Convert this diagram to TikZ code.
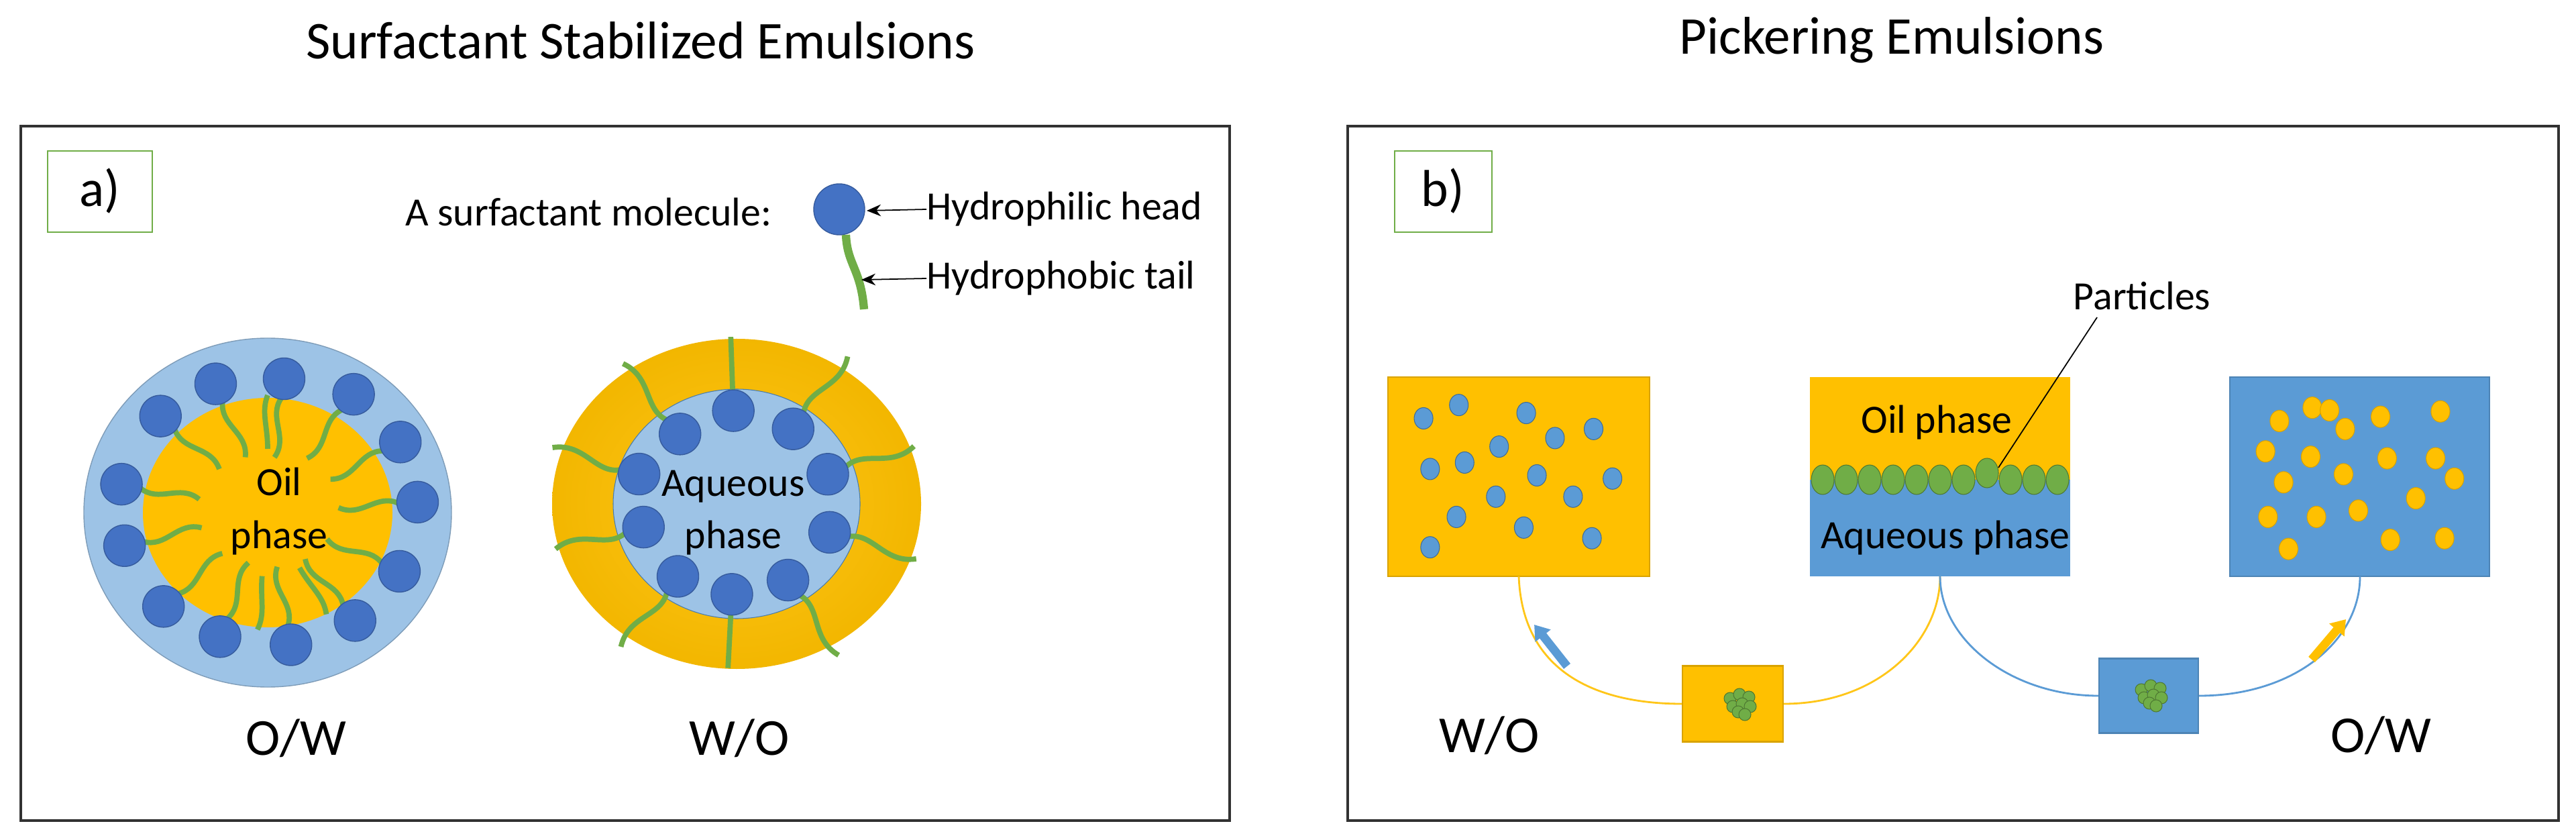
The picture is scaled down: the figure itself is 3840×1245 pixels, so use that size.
\documentclass[tikz,border=0pt]{standalone}
\usepackage{fontspec}
\setmainfont{Carlito}
\usetikzlibrary{calc,arrows.meta}
\definecolor{oilc}{RGB}{255,192,0}
\definecolor{lblue}{RGB}{157,195,230}
\definecolor{dblue}{RGB}{68,114,196}
\definecolor{sblue}{RGB}{91,155,213}
\definecolor{grn}{RGB}{112,173,71}
\definecolor{frame}{RGB}{50,50,50}
\tikzset{
  panel/.style={draw=frame,line width=1.2pt},
  tagbox/.style={draw=grn,line width=0.8pt},
  lab/.style={font=\fontsize{17}{20}\selectfont,inner sep=0pt},
  big/.style={font=\fontsize{22}{26}\selectfont,inner sep=0pt},
  ttl/.style={font=\fontsize{22.5}{27}\selectfont,inner sep=0pt},
  head/.style={fill=dblue,draw=dblue!80!black,line width=0.4pt},
  tailc/.style={draw=grn,line width=2.2pt},
  dotb/.style={fill=sblue,draw=sblue!70!black,line width=0.3pt},
  doto/.style={fill=oilc,draw=oilc!85!black,line width=0.3pt},
  part/.style={fill=grn,draw=grn!70!black,line width=0.3pt},
}
\begin{document}
\begin{tikzpicture}[x=0.01cm,y=0.01cm]
\useasboundingbox (0,0) rectangle (3840,1245);
% titles
\node[ttl] (t1) at (955,1185) {Surfactant Stabilized Emulsions};
\node[ttl] (t2) at (2820,1185) {Pickering Emulsions};
% panels
\draw[panel] (31,22) rectangle (1833,1057);
\draw[panel] (2009,22) rectangle (3814,1057);
\draw[tagbox] (71,899) rectangle (227,1020);
\node[big] (ta) at (149,960) {a)};
\draw[tagbox] (2079,899) rectangle (2224,1020);
\node[big] (tb) at (2151,960) {b)};
% surfactant molecule legend
\node[lab,anchor=east] (mol) at (1151,929) {A surfactant molecule:};
\draw[tailc,line width=3.5pt] (1261,895) .. controls (1263,850) and (1283,845) .. (1288,784);
\fill[head] (1251,933) circle (38);
\coordinate (hh) at (1292,931);
\coordinate (ht) at (1284,828);
\node[lab,anchor=west] (lh) at (1381,933) {Hydrophilic head};
\node[lab,anchor=west] (lt) at (1381,830) {Hydrophobic tail};
\draw[-{Stealth[length=6pt,width=5pt]},line width=0.5pt] (lh.west) -- (hh);
\draw[-{Stealth[length=6pt,width=5pt]},line width=0.5pt] (lt.west) -- (ht);
% O/W droplet
\coordinate (c1) at (399,481);
\fill[lblue] (c1) ellipse [x radius=274,y radius=260];
\draw[lblue!80!black,line width=0.4pt] (c1) ellipse [x radius=274,y radius=260];
\fill[oilc] (c1) ellipse [x radius=186,y radius=171];
\foreach \t/\r in {112/207,83/201,54/218,138/215,28/224,169/222,4/224,193/219,336/215,222/209,309/207,249/198,280/200}{
  \draw[tailc] ($(c1)+(\t:\r-28)$) .. controls ($(c1)+(\t:\r-60)+(\t+90:18)$) and ($(c1)+(\t:\r-85)+(\t-90:18)$) .. ($(c1)+(\t:\r-118)$);
  \fill[head] ($(c1)+(\t:\r)$) circle (31);
}
\foreach \t in {90,265,300}{
  \draw[tailc] ($(c1)+(\t:175)$) .. controls ($(c1)+(\t:150)+(\t+90:10)$) and ($(c1)+(\t:130)$) .. ($(c1)+(\t:95)$);
}
\node[lab] (oil1) at (416,527) {Oil};
\node[lab] (ph1) at (416,443) {phase};
\node[big] (ow1) at (441,145) {O/W};
% W/O droplet
\coordinate (c2) at (1098,494);
\shade[inner color=oilc!90!white,outer color=oilc!95!black] (c2) ellipse [x radius=275,y radius=246];
\fill[lblue] (c2) ellipse [x radius=184,y radius=171];
\draw[sblue!80!black,line width=0.3pt] (c2) ellipse [x radius=184,y radius=171];
\foreach \t/\r in {129/134,53/140,163/152,18/143,194/143,343/145,231/139,304/137}{
  \draw[tailc] ($(c2)+(\t:\r+25)$) .. controls ($(c2)+(\t:\r+60)+(\t+90:22)$) and ($(c2)+(\t:\r+90)+(\t-90:22)$) .. ($(c2)+(\t:\r+135)$);
}
\foreach \t/\r in {92/139,267/135}{
  \draw[tailc] ($(c2)+(\t:\r+25)$) -- ($(c2)+(\t:\r+110)$);
}
\foreach \t/\r in {92/139,129/134,53/140,163/152,18/143,194/143,343/145,231/139,304/137,267/135}{
  \fill[head] ($(c2)+(\t:\r)$) circle (31);
}
\node[lab] (aq2) at (1093,520) {Aqueous};
\node[lab] (ph2) at (1093,443) {phase};
\node[big] (wo2) at (1102,145) {W/O};
% panel b squares
\fill[oilc] (2069,386) rectangle (2459,683);
\draw[oilc!85!black,line width=0.6pt] (2069,386) rectangle (2459,683);
\foreach \a/\b in {165/785,208/760,290/775,372/805,325/822,257/838,173/880,215/868,303/892,395/898,253/932,347/932,205/970,287/990,370/1010,173/1027}{
  \path[dotb] ({\a/0.8167+1920},{1245-\b/1.259}) ellipse [x radius=14,y radius=16];
}
\fill[oilc] (2698,530) rectangle (3086,683);
\fill[sblue] (2698,386) rectangle (3086,530);
\foreach \i in {0,...,10}{
  \path[part] ({2717+\i*35},{\i==7 ? 540 : 530}) ellipse [x radius=17,y radius=22];
}
\node[lab] (oilp) at (2887,615) {Oil phase};
\node[lab] (aqp) at (2900,443) {Aqueous phase};
\fill[sblue] (3324,386) rectangle (3711,683);
\draw[sblue!85!black,line width=0.6pt] (3324,386) rectangle (3711,683);
\foreach \a/\b in {1207/790,1247/765,1268/770,1330/782,1403/772,1287/805,1190/847,1245/857,1338/860,1397/860,1285/890,1212/905,1420/898,1373/935,1303/958,1193/970,1252/970,1342/1013,1408/1010,1218/1030}{
  \path[doto] ({\a/0.8167+1920},{1245-\b/1.259}) ellipse [x radius=14,y radius=16];
}
\node[lab] (parts) at (3193,804) {Particles};
\coordinate (pt) at (2979,548);
\draw[line width=0.5pt] (3126,772) -- (pt);
% small squares
\node[fill=oilc,draw=oilc!85!black,minimum width=1.5cm,minimum height=1.13cm,inner sep=0,line width=0.6pt] (so) at (2583,196) {};
\node[fill=sblue,draw=sblue!85!black,minimum width=1.48cm,minimum height=1.11cm,inner sep=0,line width=0.6pt] (sb) at (3203,208) {};
\foreach \cx/\cy in {2593/198,3206/211}{
  \foreach \dx/\dy in {-14/6,0/12,14/8,-10/-6,4/-2,16/-6,-2/-14,8/-18}{
    \path[part] (\cx+\dx,\cy+\dy) circle (9);
  }
}
% curves
\coordinate (b1) at (2264,386);
\coordinate (b2) at (2892,386);
\coordinate (b3) at (3518,386);
\draw[oilc!90!white,line width=0.8pt] (b1) .. controls (2270,230) and (2400,196) .. (so.west);
\draw[oilc!90!white,line width=0.8pt] (so.east) .. controls (2800,196) and (2892,290) .. (b2);
\draw[sblue,line width=0.8pt] (b2) .. controls (2892,290) and (3000,208) .. (sb.west);
\draw[sblue,line width=0.8pt] (sb.east) .. controls (3420,208) and (3518,290) .. (b3);
% block arrows
\coordinate (ba1) at (2336,252);
\coordinate (ba2) at (2287,314);
\coordinate (ya1) at (3446,262);
\coordinate (ya2) at (3497,322);
\draw[sblue,line width=3.6pt,-{Triangle[length=6pt,width=8pt]}] (ba1) -- (ba2);
\draw[oilc,line width=3.6pt,-{Triangle[length=6pt,width=8pt]}] (ya1) -- (ya2);
\node[big] (wo3) at (2220,149) {W/O};
\node[big] (ow3) at (3549,149) {O/W};
\end{tikzpicture}
\end{document}
